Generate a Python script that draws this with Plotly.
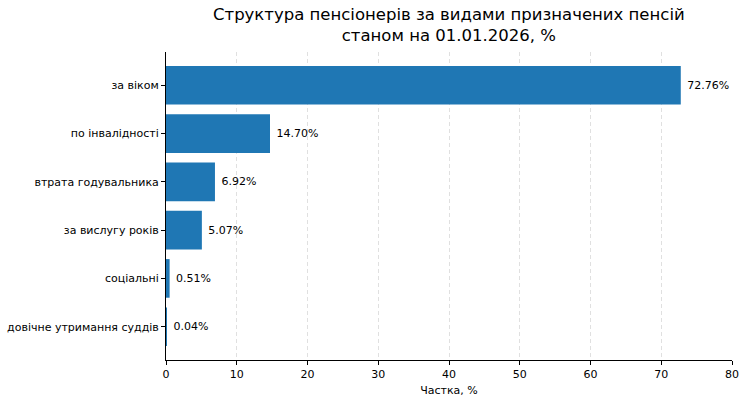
import plotly.graph_objects as go

categories = ["за віком", "по інвалідності", "втрата годувальника",
              "за вислугу років", "соціальні", "довічне утримання суддів"]
values = [72.76, 14.70, 6.92, 5.07, 0.51, 0.04]
labels = [f" {v:.2f}%" for v in values]
x_ticks = [0, 10, 20, 30, 40, 50, 60, 70, 80]

fig = go.Figure()
fig.add_trace(go.Bar(
    x=values, y=categories, orientation="h",
    marker=dict(color="#1f77b4", line=dict(width=0)),
    width=0.8,
    text=labels, textposition="outside",
    textfont=dict(family="DejaVu Sans", size=11, color="black"),
    cliponaxis=False,
))

fig.update_layout(
    width=746, height=401,
    margin=dict(l=166, r=14, t=52, b=41, autoexpand=False),
    plot_bgcolor="white", paper_bgcolor="white",
    font=dict(family="DejaVu Sans", size=11, color="black"),
    showlegend=False,
    bargap=0.2,
    annotations=[dict(
        text="Структура пенсіонерів за видами призначених пенсій<br>станом на 01.01.2026, %",
        xref="paper", yref="paper", x=0.5, y=1 + 27 / 308,
        xanchor="center", yanchor="middle", showarrow=False,
        font=dict(family="DejaVu Sans", size=16.5, color="black"),
    )],
)
fig.update_xaxes(
    range=[0, 80], tickvals=x_ticks, automargin=False,
    showline=True, linecolor="black", linewidth=1,
    ticks="outside", ticklen=4, tickcolor="black",
    showgrid=True, gridcolor="#e0e0e0", griddash="4px,3px", gridwidth=1,
    zeroline=False,
    title=dict(text="Частка, %", font=dict(size=11), standoff=6),
    tickfont=dict(size=11),
)
fig.update_yaxes(
    type="category", categoryorder="array", categoryarray=categories,
    range=[5.69, -0.69], automargin=False,
    showline=True, linecolor="black", linewidth=1,
    ticks="outside", ticklen=4, tickcolor="black",
    showgrid=False, zeroline=False,
    tickfont=dict(size=11),
)

fig.write_html(
    "out.html",
    config={"displayModeBar": False},
    post_script="document.body.style.margin='0';document.body.style.overflow='hidden';",
)
